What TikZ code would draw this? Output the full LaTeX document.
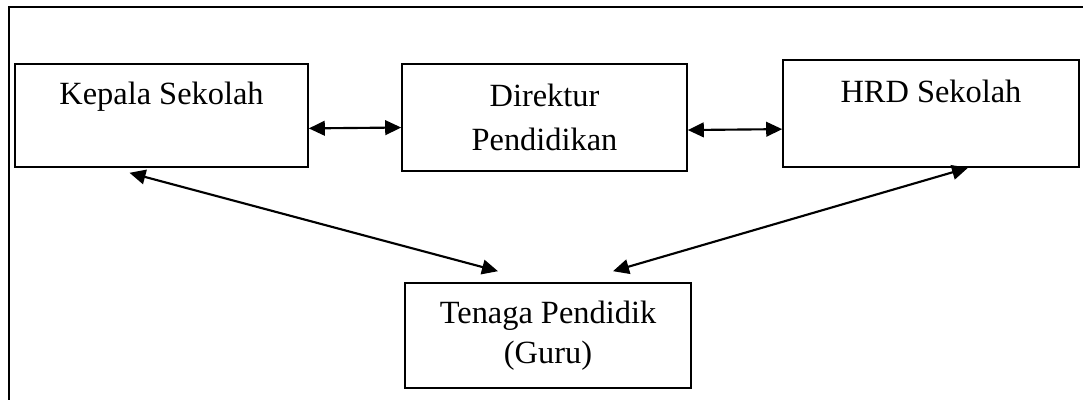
\documentclass[tikz,border=0pt]{standalone}
\usepackage{fontspec}
\setmainfont{Liberation Serif}
\usetikzlibrary{arrows.meta, calc}
\tikzstyle{box} = [draw, line width=1.2pt, rectangle, align=center, inner sep=0pt, font=\fontsize{24.3}{33}\selectfont]
\tikzstyle{dblarrow} = [line width=1.6pt, {Triangle[length=12pt,width=11pt]}-{Triangle[length=12pt,width=11pt]}]

\begin{document}
\begin{tikzpicture}[x=0.75pt, y=-0.75pt]
  \useasboundingbox (0,0) rectangle (1083,400);
  \draw [line width=1.6pt] (9,400) -- (9,7) -- (1083,7);
  \node [box, minimum width=219.75pt, minimum height=77.25pt] (kepala) at (161.5,115.5) {Kepala Sekolah\\ \mbox{}};
  \node [box, minimum width=213.75pt, minimum height=80.25pt] (direktur) at (544.5,117.5) {Direktur\\ Pendidikan};
  \node [box, minimum width=222pt, minimum height=80.25pt] (hrd) at (931,113.5) {HRD Sekolah\\ \mbox{}};
  \node [box, minimum width=214.5pt, minimum height=78.75pt] (tenaga) at (548,335.5) {Tenaga Pendidik\\[-3pt] (Guru)};
  \draw [dblarrow] (kepala.-5) -- (direktur.184);
  \draw [dblarrow] (direktur.-5) -- (hrd.186);
  \draw [dblarrow] ($(kepala.south)+(-32,5)$) -- ($(tenaga.north)+(-50,-11)$);
  \draw [dblarrow] ($(hrd.south)+(37,0)$) -- ($(tenaga.north)+(65,-11)$);
\end{tikzpicture}
\end{document}
